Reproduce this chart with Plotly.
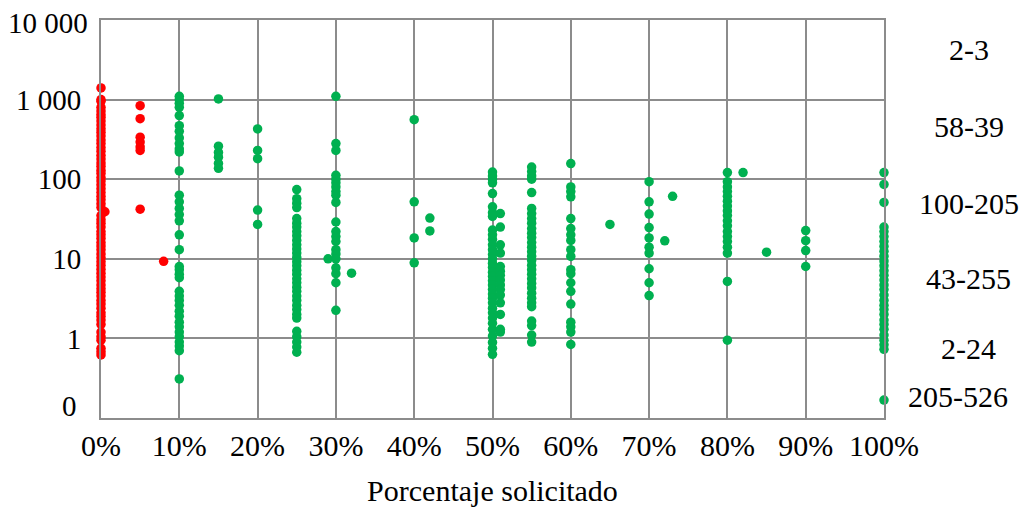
import plotly.graph_objects as go

# ---------------- data ----------------
# Red series: 0 % column (dense), and a few scattered points
red_x_0 = [0] * 66
red_y_0 = [1400, 1000, 950, 800, 720, 650, 600, 540, 480, 430, 390, 350, 310, 280,
           250, 225, 200, 180, 160, 145, 130, 118, 105, 95, 85, 76, 68, 61, 55, 49,
           44, 35, 31, 28, 25, 22, 20, 18, 16, 14.5, 13, 11.5, 10.3, 9.2, 8.3, 7.4,
           6.6, 5.9, 5.3, 4.7, 4.2, 3.8, 3.4, 3.0, 2.7, 2.4, 2.1, 1.9, 1.7, 1.5,
           1.2, 1.05, 0.95, 0.75, 0.68, 0.62]
red_x_other = [0.5, 5, 5, 5, 5, 5, 5, 5, 8]
red_y_other = [39, 840, 575, 337, 293, 254, 230, 42, 9.3]

# Green series grouped by x position (percentage requested)
green_groups = {
    10: [1100, 1000, 900, 800, 630, 470, 400, 330, 280, 240, 220, 127, 63, 52, 43,
         36, 30, 20, 13, 8, 7.3, 6.4, 5.8, 3.9, 3.4, 3.0, 2.6, 2.2, 1.9, 1.6, 1.4,
         1.2, 1.05, 0.9, 0.8, 0.7, 0.31],
    15: [1020, 260, 217, 189, 158, 137],
    20: [428, 230, 181, 41, 27],
    25: [74, 57, 50, 44, 32, 28, 25, 22, 19.5, 17, 15, 13.3, 11.8, 10.4, 9.2, 8.2,
         7.2, 6.4, 5.6, 5.0, 4.4, 3.9, 3.4, 3.0, 2.6, 2.3, 2.0, 1.8, 1.23, 1.05, 0.9,
         0.78, 0.67],
    29: [10],
    30: [1100, 280, 230, 112, 100, 90, 80, 70, 63, 51, 29, 22, 19, 16.5, 13, 11.5,
         10, 7.7, 6.5, 5.0, 2.25],
    32: [6.6],
    40: [560, 52, 18.3, 8.9],
    42: [32.5, 22.4],
    50: [123, 110, 100, 90, 66, 45, 38, 34, 23, 20, 17.5, 15, 13, 11.3, 10, 8.8, 7.8,
         6.8, 6.0, 5.3, 4.7, 4.1, 3.6, 3.2, 2.8, 2.4, 2.1, 1.8, 1.55, 1.3, 1.07, 0.89,
         0.75, 0.63],
    51: [37, 25, 15, 11.8, 8, 7, 6.2, 5.4, 4.7, 4.1, 3.5, 2.8, 2.0, 1.3, 1.2],
    55: [142, 125, 110, 100, 68, 43, 37, 32, 28, 24, 21, 18.5, 16, 14, 12.3, 10.8,
         9.5, 8.3, 7.3, 6.4, 5.6, 4.9, 4.3, 3.7, 3.2, 2.8, 2.5, 1.65, 1.45, 1.1, 0.9],
    60: [157, 80, 70, 60, 32, 24, 20, 17, 13, 10.7, 7.3, 6.5, 5.0, 3.9, 2.7, 1.6,
         1.4, 1.2, 0.84],
    65: [27],
    70: [93, 52, 36.5, 24.7, 18.3, 14, 11.8, 7.5, 5.0, 3.45],
    72: [16.8],
    73: [61],
    80: [121, 93, 80, 70, 61, 53, 46, 40, 35, 30, 26, 22, 19, 16.5, 14, 11.8, 5.2,
         0.95],
    82: [121],
    85: [12.1],
    90: [22.6, 16.9, 12.7, 8],
    100: [121, 86, 51, 25, 22, 19, 16.5, 14.3, 12.4, 10.8, 9.4, 8.2, 7.1, 6.2, 5.4,
          4.7, 4.1, 3.5, 3.0, 2.6, 2.3, 2.0, 1.7, 1.5, 1.3, 1.1, 0.95, 0.83, 0.73,
          0.168],
}

x_tick_vals = [0, 10, 20, 30, 40, 50, 60, 70, 80, 90, 100]
x_tick_text = ["0%", "10%", "20%", "30%", "40%", "50%", "60%", "70%", "80%",
               "90%", "100%"]
y_tick_vals = [1, 10, 100, 1000, 10000]
y_tick_text = ["1", "10", "100", "1 000", ""]
# labels drawn as annotations at the axis ends (log10 position, text)
y_end_labels = [(4, "10 000"), (-0.85, "0")]

side_labels = ["2-3", "58-39", "100-205", "43-255", "2-24", "205-526"]
side_label_pos = [3.63, 2.66, 1.70, 0.75, -0.125, -0.725]   # log10 positions
side_line_pos = -0.4

x_title = "Porcentaje solicitado"

# ---------------- figure ----------------
FONT = "Liberation Serif, Times New Roman, serif"
GREEN = "#00B050"
RED = "#FF0000"
GRID = "#8C8C8C"
XTICK_SIZE = 30
YTICK_SIZE = 29

green_x, green_y = [], []
for k, vals in green_groups.items():
    green_x += [k] * len(vals)
    green_y += vals

fig = go.Figure()
fig.add_trace(go.Scatter(x=green_x, y=green_y, mode="markers",
                         marker=dict(color=GREEN, size=9.5, line=dict(width=0)),
                         cliponaxis=False, showlegend=False))
fig.add_trace(go.Scatter(x=red_x_0 + red_x_other, y=red_y_0 + red_y_other,
                         mode="markers",
                         marker=dict(color=RED, size=9.5, line=dict(width=0)),
                         cliponaxis=False, showlegend=False))

side_x = [1.108, 1.108, 1.108, 1.108, 1.108, 1.095]
for txt, pos, sx in zip(side_labels, side_label_pos, side_x):
    fig.add_annotation(x=sx, xref="paper", y=pos, yref="y", text=txt,
                       showarrow=False, xanchor="center", yanchor="middle",
                       font=dict(family=FONT, size=XTICK_SIZE, color="black"))
fig.add_shape(type="line", xref="paper", yref="y", x0=1.018, x1=1.2,
              y0=side_line_pos, y1=side_line_pos,
              line=dict(color="black", width=2))

end_shift = [(-11, 3), (-22, 0)]
for (pos, txt), (xs, ys) in zip(y_end_labels, end_shift):
    fig.add_annotation(x=0, xref="paper", y=pos, yref="y", text=txt,
                       showarrow=False, xanchor="right", yanchor="middle",
                       xshift=xs, yshift=-ys,
                       font=dict(family=FONT, size=YTICK_SIZE, color="black"))

# the page body has an 8 px margin, so the figure is 8 px smaller than the window
fig.update_layout(
    width=1021, height=502,
    margin=dict(l=93, r=145, t=12, b=92, autoexpand=False),
    plot_bgcolor="white", paper_bgcolor="white",
    font=dict(family=FONT, size=XTICK_SIZE, color="black"),
    xaxis=dict(range=[0, 100], tickvals=x_tick_vals, ticktext=x_tick_text,
               showgrid=True, gridcolor=GRID, gridwidth=2, zeroline=False,
               showline=True, linecolor=GRID, linewidth=2, mirror=True,
               ticks="", ticklabelstandoff=0, automargin=False,
               title=dict(text=x_title, standoff=19,
                          font=dict(family=FONT, size=30)),
               tickfont=dict(family=FONT, size=XTICK_SIZE)),
    yaxis=dict(type="log", range=[-1, 4], tickvals=y_tick_vals,
               ticktext=y_tick_text, showgrid=True, gridcolor=GRID, gridwidth=2,
               zeroline=False, showline=True, linecolor=GRID, linewidth=2,
               mirror=True, ticks="", ticklabelstandoff=12, automargin=False,
               tickfont=dict(family=FONT, size=YTICK_SIZE)),
)

fig.write_html("out.html")
